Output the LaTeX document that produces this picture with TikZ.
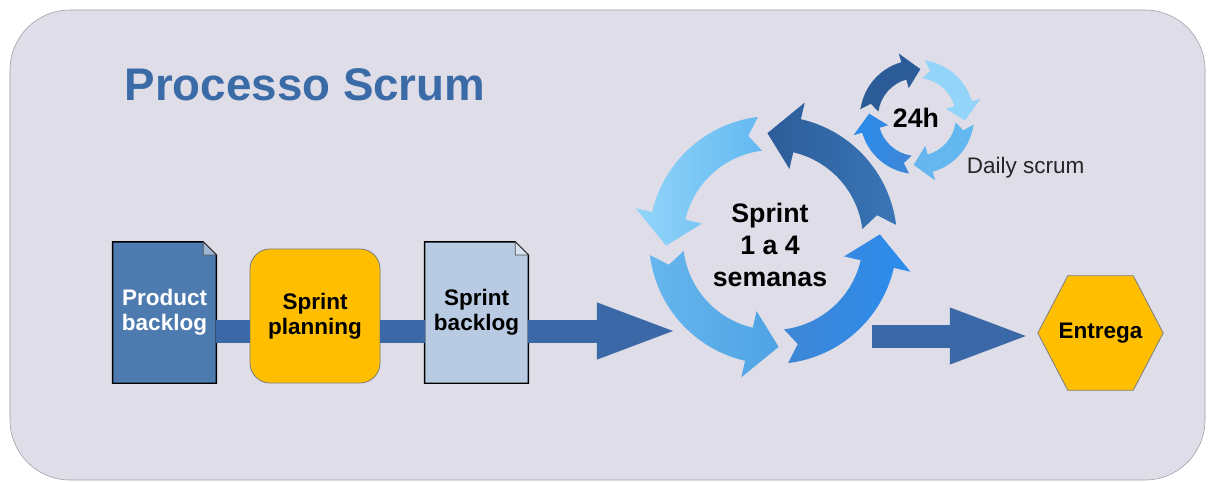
\documentclass[tikz,border=0pt]{standalone}
\usepackage{fontspec}
\setmainfont{Liberation Sans}
\usetikzlibrary{arrows.meta}

\pgfdeclarelayer{bg}
\pgfdeclarelayer{paper}
\pgfsetlayers{bg,paper,main}

\definecolor{panel}{HTML}{DEDDE8}
\definecolor{panelline}{HTML}{9E9EA8}
\definecolor{titleblue}{HTML}{3A6BA6}
\definecolor{pbblue}{HTML}{4E7BAF}
\definecolor{sbblue}{HTML}{B9CBE3}
\definecolor{amber}{HTML}{FFBF00}
\definecolor{flowblue}{HTML}{3B68A6}
\definecolor{ringlight}{HTML}{93D5FA}
\definecolor{ringlightb}{HTML}{62B8F0}
\definecolor{ringsoft}{HTML}{66B6EE}
\definecolor{ringsoftb}{HTML}{4FA3E4}
\definecolor{ringmid}{HTML}{3F86D4}
\definecolor{ringbright}{HTML}{2A8CEE}
\definecolor{ringdark}{HTML}{2C5C98}
\definecolor{ringdarkb}{HTML}{3A76B8}

% Pfeil auf einem Ring: Mitte, Radius, halbe Breite, Ende, Spitze, Kopf (Grad), Stil
\newcommand{\ringarrow}[7]{%
  \path[shift={(#1)}, #7]
    ({#4}:{#2+#3}) arc[start angle={#4}, end angle={#5-(#6)}, radius={#2+#3}]
    -- ({#5-(#6)}:{#2+2*#3}) -- ({#5}:{#2}) -- ({#5-(#6)}:{#2-2*#3})
    -- ({#5-(#6)}:{#2-#3}) arc[start angle={#5-(#6)}, end angle={#4}, radius={#2-#3}]
    -- ({#4+0.4*(#6)}:{#2}) -- cycle;}

% Dokument mit umgeknickter Ecke um einen Knoten
\newcommand{\drawdoc}[2]{%
  \filldraw[fill=#2, draw=black, line width=1pt]
    (#1.south west) -- (#1.north west) -- ([xshift=-0.33cm]#1.north east)
    -- ([yshift=-0.33cm]#1.north east) -- (#1.south east) -- cycle;
  \filldraw[fill=#2!55!white, draw=black!70, line width=0.6pt]
    ([xshift=-0.33cm]#1.north east) -- ([shift={(-0.33cm,-0.33cm)}]#1.north east)
    -- ([yshift=-0.33cm]#1.north east) -- cycle;}

\tikzset{
  label16/.style={font=\fontsize{16}{18}\selectfont\bfseries, align=center},
  docbox/.style={label16, minimum width=2.58cm, minimum height=3.52cm, inner sep=0pt},
  flow/.style={draw=flowblue, line width=0.575cm},
  bigflow/.style={flow, -{Triangle[width=1.43cm, length=1.9cm, line width=0pt]}},
  ring/.style 2 args={left color=#1, right color=#2, draw=none},
}

\begin{document}
\begin{tikzpicture}[x=0.025cm, y=0.025cm]
    \useasboundingbox (0,0) rectangle (1208,482);

    % Hintergrund
    \begin{pgfonlayer}{bg}
        \fill[white] (0,0) rectangle (1208,482);
        \draw[fill=panel, draw=panelline, rounded corners=1.5cm] (10,2) rectangle (1205,472);
    \end{pgfonlayer}

    % Titel
    \node[font=\fontsize{32.5}{36}\selectfont\bfseries, text=titleblue] (title) at (305,397) {Processo Scrum};

    % Backlogs und Planung
    \node[docbox, text=white] (pb) at (164.5,169.5) {Product\\backlog};
    \node[label16, draw=gray, fill=amber, rounded corners=0.5cm, line width=0.6pt,
          minimum width=3.25cm, minimum height=3.35cm] (sp) at (315,166) {Sprint\\planning};
    \node[docbox] (sb) at (476.5,169.5) {Sprint\\backlog};
    \begin{pgfonlayer}{paper}
        \drawdoc{pb}{pbblue}
        \drawdoc{sb}{sbblue}
    \end{pgfonlayer}

    % Verbindungen
    \coordinate (flowy) at (0,151);
    \draw[flow] (pb.east |- flowy) -- (sp.west |- flowy);
    \draw[flow] (sp.east |- flowy) -- (sb.west |- flowy);
    \coordinate (cyclein) at (673,151);
    \draw[bigflow] (sb.east |- flowy) -- (cyclein);

    % Sprint-Zyklus
    \coordinate (sprintc) at (773,242);
    \foreach \tl/\tp/\ca/\cb in {277/363/ringmid/ringbright, 7/93/ringdark/ringdarkb,
                                  97/183/ringlight/ringlightb, 187/273/ringsoft/ringsoftb}
        \ringarrow{sprintc}{107}{17}{\tl}{\tp}{16}{ring={\ca}{\cb}};
    \node[font=\fontsize{19}{23}\selectfont\bfseries, align=center] (sprint) at (770,237) {Sprint\\1 a 4\\semanas};

    % Daily scrum
    \coordinate (dailyc) at (917,365);
    \foreach \tl/\tp/\ca/\cb in {172/86/ringdark/ringdark, 82/-4/ringlight/ringlight,
                                  -8/-94/ringsoft/ringlightb, -98/-184/ringbright/ringmid}
        \ringarrow{dailyc}{48}{9}{\tl}{\tp}{-20}{ring={\ca}{\cb}};
    \node[font=\fontsize{19}{22}\selectfont\bfseries] (daily) at (916,364) {24h};
    \node[font=\fontsize{16}{18}\selectfont, text=black!85, anchor=west] (dailylabel) at (962,314) {Daily scrum};

    % Entrega (Sechseck)
    \node[label16, minimum width=3.12cm, minimum height=2.85cm, inner sep=0pt] (entrega) at (1100.5,149) {Entrega};
    \begin{pgfonlayer}{paper}
        \filldraw[fill=amber, draw=gray, line width=0.6pt]
            (entrega.west) -- ([xshift=0.75cm]entrega.north west) -- ([xshift=-0.75cm]entrega.north east)
            -- (entrega.east) -- ([xshift=-0.75cm]entrega.south east) -- ([xshift=0.75cm]entrega.south west) -- cycle;
    \end{pgfonlayer}
    \coordinate (cycleout) at (872,146);
    \draw[bigflow, shorten >=0.3cm] (cycleout) -- (entrega.west |- cycleout);

\end{tikzpicture}
\end{document}
